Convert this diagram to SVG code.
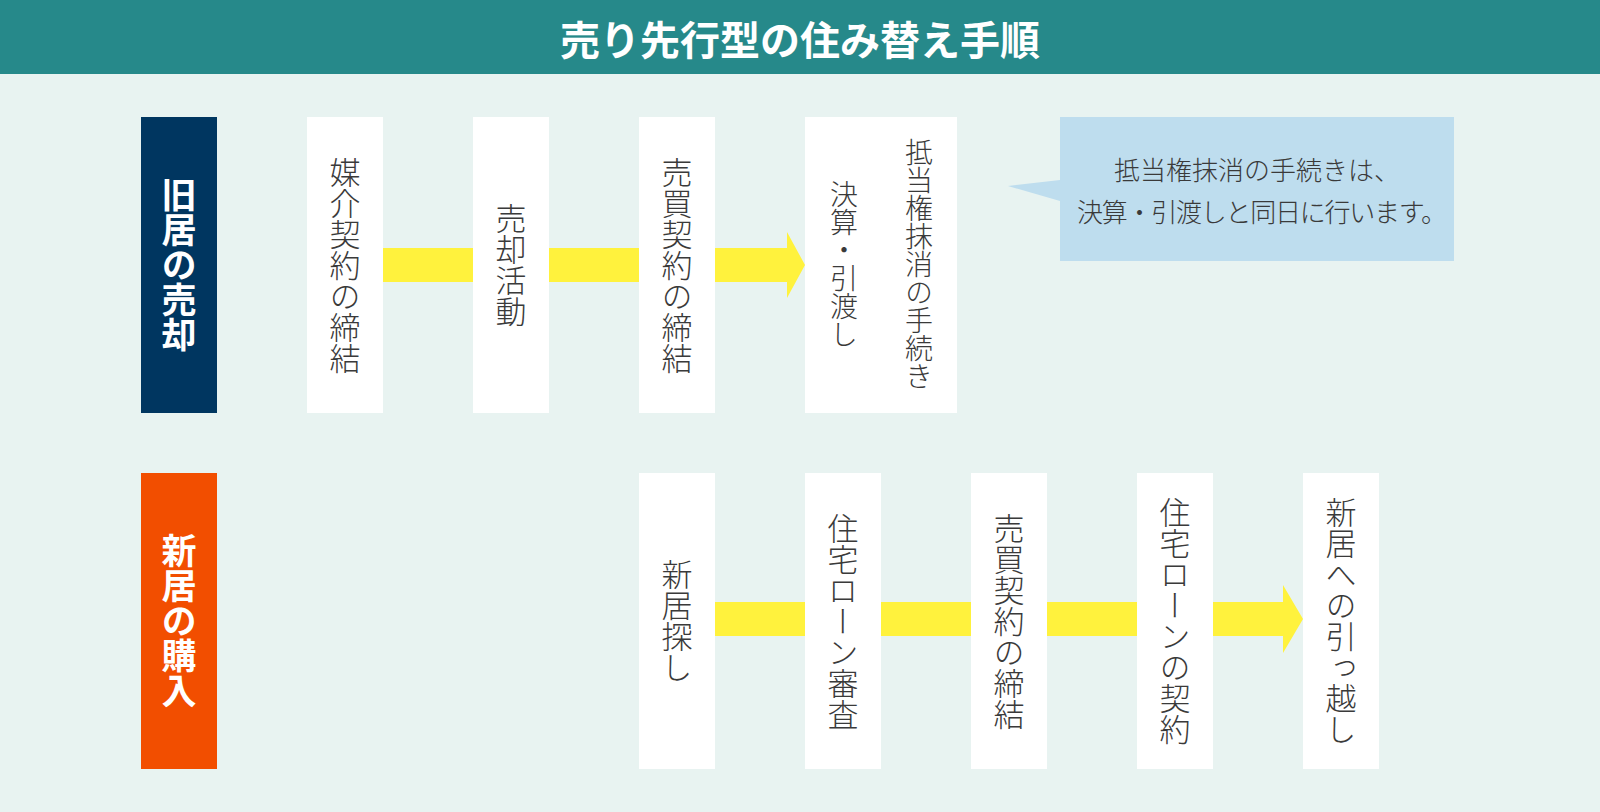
<svg xmlns="http://www.w3.org/2000/svg" width="1600" height="812" viewBox="0 0 1600 812">
<style>
.bg{fill:#E8F3F1}
.box{fill:#FFFFFF}
.vt{font-family:"Noto Sans CJK JP","Noto Sans",sans-serif;writing-mode:vertical-rl;text-anchor:middle;fill:#3A3A3A;font-size:31px;font-weight:300}
.vs{font-size:28px}
.lab{font-family:"Noto Sans CJK JP","Noto Sans",sans-serif;writing-mode:vertical-rl;text-anchor:middle;fill:#FFFFFF;font-size:35px;font-weight:700}
.arrow{fill:#FFF23D}
.note{font-family:"Noto Sans CJK JP","Noto Sans",sans-serif;font-size:26px;fill:#3A3A3A;text-anchor:middle;font-weight:300}
</style>
<rect class="bg" x="0" y="0" width="1600" height="812"/>
<g id="title">
<rect x="0" y="0" width="1600" height="74" fill="#26898A"/>
<text x="800" y="38" dominant-baseline="central" text-anchor="middle" font-family="Noto Sans CJK JP, Noto Sans, sans-serif" font-size="40" font-weight="700" fill="#FFFFFF">売り先行型の住み替え手順</text>
</g>
<g id="connectors">
<polygon class="arrow" points="345,248 787,248 787,232 805,265 787,298 787,282 345,282"/>
<polygon class="arrow" points="677,602 1283,602 1283,585 1303,619 1283,653 1283,636 677,636"/>
</g>
<g id="label-old">
<rect x="141" y="117" width="76" height="296" fill="#003660"/>
<text class="lab" x="179" y="265">旧居の売却</text>
</g>
<g id="label-new">
<rect x="141" y="473" width="76" height="296" fill="#F24E00"/>
<text class="lab" x="179" y="621">新居の購入</text>
</g>
<g id="s1">
<rect class="box" x="307" y="117" width="76" height="296"/>
<text class="vt" x="345" y="265">媒介契約の締結</text>
</g>
<g id="s2">
<rect class="box" x="473" y="117" width="76" height="296"/>
<text class="vt" x="511" y="265">売却活動</text>
</g>
<g id="s3">
<rect class="box" x="639" y="117" width="76" height="296"/>
<text class="vt" x="677" y="265">売買契約の締結</text>
</g>
<g id="s4">
<rect class="box" x="805" y="117" width="152" height="296"/>
<text class="vt vs" x="844" y="264">決算・引渡し</text>
<text class="vt vs" x="919" y="264">抵当権抹消の手続き</text>
</g>
<g id="note">
<polygon points="1060,180 1008,186 1060,201" fill="#BEDDEE"/>
<rect x="1060" y="117" width="394" height="144" fill="#BEDDEE"/>
<text class="note" x="1257" y="180">抵当権抹消の手続きは、</text>
<text class="note" x="1262" y="222" textLength="370" lengthAdjust="spacing">決算・引渡しと同日に行います。</text>
</g>
<g id="b1">
<rect class="box" x="639" y="473" width="76" height="296"/>
<text class="vt" x="677" y="621">新居探し</text>
</g>
<g id="b2">
<rect class="box" x="805" y="473" width="76" height="296"/>
<text class="vt" x="843" y="621">住宅ローン審査</text>
</g>
<g id="b3">
<rect class="box" x="971" y="473" width="76" height="296"/>
<text class="vt" x="1009" y="621">売買契約の締結</text>
</g>
<g id="b4">
<rect class="box" x="1137" y="473" width="76" height="296"/>
<text class="vt" x="1175" y="621">住宅ローンの契約</text>
</g>
<g id="b5">
<rect class="box" x="1303" y="473" width="76" height="296"/>
<text class="vt" x="1341" y="621">新居への引っ越し</text>
</g>
</svg>
